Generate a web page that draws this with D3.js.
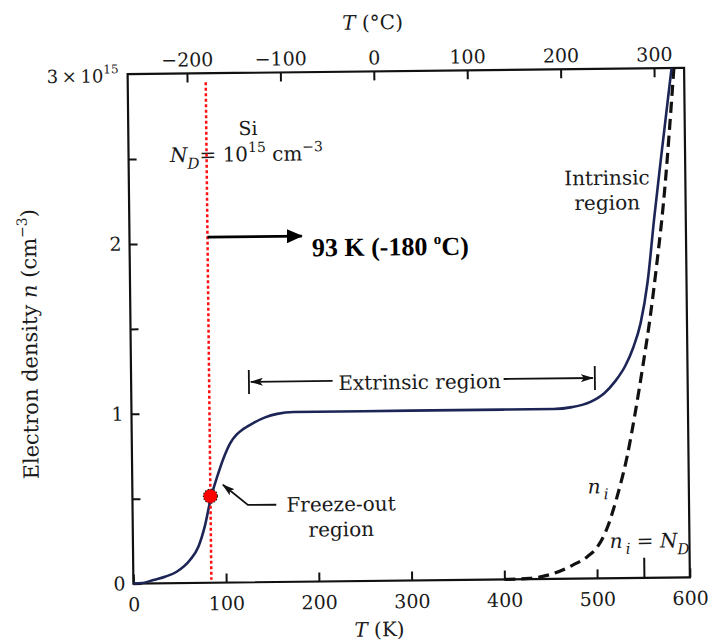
<!DOCTYPE html>
<html>
<head>
<meta charset="utf-8">
<script src="https://cdn.jsdelivr.net/npm/d3@7"></script>
<style>
  body { margin: 0; background: #fff; }
  svg { display: block; font-family: "DejaVu Serif", serif; }
</style>
</head>
<body>
<script>
'use strict';

// electron density n (units of 1e15 cm^-3) against T (K)
const solidT = [0, 10, 21.5, 35, 46.8, 61.3, 70.5, 78, 84.6, 92, 100, 106, 113, 121, 132, 144, 157, 175, 200, 300, 400, 455, 475, 495, 510, 522, 533, 542, 550, 558, 566, 574, 586.5];
const solidN = [0, 0.003, 0.02, 0.04, 0.067, 0.135, 0.213, 0.34, 0.5, 0.63, 0.75, 0.82, 0.87, 0.905, 0.94, 0.97, 0.99, 1.0, 1.0, 1.0, 1.0, 1.0, 1.01, 1.04, 1.09, 1.16, 1.25, 1.36, 1.5, 1.74, 2.12, 2.47, 3.0];

// intrinsic density n_i (dashed)
const niT = [400, 427, 452, 474, 490, 500, 511, 522, 534, 543, 552, 560, 568, 576, 589];
const niN = [0, 0.005, 0.03, 0.08, 0.13, 0.18, 0.29, 0.47, 0.72, 0.97, 1.25, 1.52, 1.84, 2.2, 3.0];

// ticks
const kTicks = [0, 100, 200, 300, 400, 500, 600];
const cTicks = [-200, -100, 0, 100, 200, 300];
const nTicks = [0, 0.5, 1, 1.5, 2, 2.5];
const nLabels = [0, 1, 2];

// annotation values
const markC = -180;        // red marker line, deg C
const markN = 0.51;        // red dot
const arrowTipK = 188;
const arrowN = 2.035;
const extrinsic = [127, 500];
const extrinsicN = 1.18;
const niEqualK = 551;

const svg = d3.select('body').append('svg')
  .attr('width', 718)
  .attr('height', 643);

// the scanned figure sits slightly rotated
const g = svg.append('g').attr('transform', 'rotate(-0.65, 408, 326)');

const x = d3.scaleLinear().domain([0, 600]).range([130.5, 687]);
const xC = d3.scaleLinear().domain([-263.5, 332.2]).range([130.5, 687]);
const y = d3.scaleLinear().domain([0, 3]).range([580.5, 71]);

const defs = svg.append('defs');
defs.append('marker')
  .attr('id', 'bigHead')
  .attr('viewBox', '0 0 16 14')
  .attr('refX', 15).attr('refY', 7)
  .attr('markerUnits', 'userSpaceOnUse')
  .attr('markerWidth', 16).attr('markerHeight', 14)
  .attr('orient', 'auto')
  .append('path').attr('d', 'M0,0 L16,7 L0,14 Z').attr('fill', '#000');
defs.append('marker')
  .attr('id', 'smallHead')
  .attr('viewBox', '0 0 13 8')
  .attr('refX', 12).attr('refY', 4)
  .attr('markerUnits', 'userSpaceOnUse')
  .attr('markerWidth', 13).attr('markerHeight', 8)
  .attr('orient', 'auto-start-reverse')
  .append('path').attr('d', 'M0,0 L13,4 L0,8 L3,4 Z').attr('fill', '#111');

function styleAxis(sel) {
  sel.select('.domain').remove();
  sel.attr('font-family', '"DejaVu Serif", serif').attr('font-size', 19);
  sel.selectAll('.tick line').attr('stroke', '#111').attr('stroke-width', 2);
  sel.selectAll('.tick text').attr('fill', '#1a1a1a');
}

// axes, ticks pointing inward
g.append('g')
  .attr('transform', 'translate(0,' + y(0) + ')')
  .call(d3.axisBottom(x).tickValues(kTicks).tickSize(-9).tickPadding(14))
  .call(styleAxis);

g.append('g')
  .attr('transform', 'translate(0,' + y(3) + ')')
  .call(d3.axisTop(xC).tickValues(cTicks).tickSize(-9).tickPadding(7))
  .call(styleAxis);

g.append('g')
  .attr('transform', 'translate(' + x(0) + ',0)')
  .call(d3.axisLeft(y).tickValues(nTicks).tickSize(-8).tickPadding(8)
    .tickFormat(d => nLabels.includes(d) ? d : ''))
  .call(styleAxis);

// frame
g.append('rect')
  .attr('x', x(0)).attr('y', y(3))
  .attr('width', x(600) - x(0)).attr('height', y(0) - y(3))
  .attr('fill', 'none').attr('stroke', '#111').attr('stroke-width', 2.2);

// top-left label 3 x 10^15
const topLab = g.append('text')
  .attr('x', x(0) - 9).attr('y', y(3) + 8)
  .attr('text-anchor', 'end').attr('font-size', 18).attr('fill', '#1a1a1a');
topLab.append('tspan').text('3\u2009\u00d7\u200910');
topLab.append('tspan').attr('font-size', 12).attr('dy', -9).text('15');

// axis titles
const tC = g.append('text')
  .attr('x', 376).attr('y', 29)
  .attr('text-anchor', 'middle').attr('font-size', 20).attr('fill', '#1a1a1a');
tC.append('tspan').attr('font-style', 'italic').text('T');
tC.append('tspan').text(' (\u00b0C)');

const tK = g.append('text')
  .attr('x', 376).attr('y', 636)
  .attr('text-anchor', 'middle').attr('font-size', 20).attr('fill', '#1a1a1a');
tK.append('tspan').attr('font-style', 'italic').text('T');
tK.append('tspan').text(' (K)');

const yTitle = g.append('text')
  .attr('transform', 'translate(37,340) rotate(-90)')
  .attr('text-anchor', 'middle').attr('font-size', 21).attr('fill', '#1a1a1a');
yTitle.append('tspan').text('Electron density ');
yTitle.append('tspan').attr('font-style', 'italic').text('n');
yTitle.append('tspan').text(' (cm');
yTitle.append('tspan').attr('font-size', 14).attr('dy', -9).text('\u22123');
yTitle.append('tspan').attr('dy', 9).text(')');

// curves
const solidData = solidT.map((t, i) => [t, solidN[i]]);
const niData = niT.map((t, i) => [t, niN[i]]);
const line = d3.line()
  .x(d => x(d[0]))
  .y(d => y(d[1]))
  .curve(d3.curveMonotoneX);

g.append('path')
  .datum(niData)
  .attr('d', line)
  .attr('fill', 'none')
  .attr('stroke', '#111')
  .attr('stroke-width', 3.2)
  .attr('stroke-dasharray', '11,6');

g.append('path')
  .datum(solidData)
  .attr('d', line)
  .attr('fill', 'none')
  .attr('stroke', '#1d2556')
  .attr('stroke-width', 2.6);

// n_i = N_D marker tick
g.append('line')
  .attr('x1', x(niEqualK)).attr('x2', x(niEqualK))
  .attr('y1', y(0)).attr('y2', y(0) - 20)
  .attr('stroke', '#111').attr('stroke-width', 2);

// extrinsic region span
extrinsic.forEach(t => {
  g.append('line')
    .attr('x1', x(t)).attr('x2', x(t))
    .attr('y1', y(extrinsicN) - 12).attr('y2', y(extrinsicN) + 12)
    .attr('stroke', '#111').attr('stroke-width', 1.8);
});
g.append('line')
  .attr('x1', 332).attr('x2', x(extrinsic[0]) + 2)
  .attr('y1', y(extrinsicN)).attr('y2', y(extrinsicN))
  .attr('stroke', '#111').attr('stroke-width', 1.8)
  .attr('marker-end', 'url(#smallHead)');
g.append('line')
  .attr('x1', 503).attr('x2', x(extrinsic[1]) - 2)
  .attr('y1', y(extrinsicN)).attr('y2', y(extrinsicN))
  .attr('stroke', '#111').attr('stroke-width', 1.8)
  .attr('marker-end', 'url(#smallHead)');
g.append('text')
  .attr('x', x(311)).attr('y', y(extrinsicN) + 9)
  .attr('text-anchor', 'middle').attr('font-size', 20).attr('fill', '#1a1a1a')
  .text('Extrinsic region');

// intrinsic region label
g.append('text').attr('x', x(515.5)).attr('y', y(2.316))
  .attr('text-anchor', 'middle').attr('font-size', 20).attr('fill', '#1a1a1a')
  .text('Intrinsic');
g.append('text').attr('x', x(515.5)).attr('y', y(2.17))
  .attr('text-anchor', 'middle').attr('font-size', 20).attr('fill', '#1a1a1a')
  .text('region');

// freeze-out label and arrow
g.append('text').attr('x', x(224.8)).attr('y', y(0.413))
  .attr('text-anchor', 'middle').attr('font-size', 20).attr('fill', '#1a1a1a')
  .text('Freeze-out');
g.append('text').attr('x', x(224.8)).attr('y', y(0.265))
  .attr('text-anchor', 'middle').attr('font-size', 20).attr('fill', '#1a1a1a')
  .text('region');
g.append('path')
  .attr('d', d3.line()([[x(155), y(0.455)], [x(124.4), y(0.456)], [x(97.7), y(0.576)]]))
  .attr('fill', 'none').attr('stroke', '#111').attr('stroke-width', 1.8)
  .attr('marker-end', 'url(#smallHead)');

// Si, N_D label
g.append('text').attr('x', x(129)).attr('y', y(2.634))
  .attr('text-anchor', 'middle').attr('font-size', 19).attr('fill', '#1a1a1a')
  .text('Si');
const nd = g.append('text').attr('x', x(44.6)).attr('y', y(2.48))
  .attr('font-size', 20).attr('fill', '#1a1a1a');
nd.append('tspan').attr('font-style', 'italic').text('N');
nd.append('tspan').attr('font-style', 'italic').attr('font-size', 15).attr('dy', 7).text('D');
nd.append('tspan').attr('dy', -7).text('= 10');
nd.append('tspan').attr('font-size', 14).attr('dy', -9).text('15');
nd.append('tspan').attr('dy', 9).text(' cm');
nd.append('tspan').attr('font-size', 14).attr('dy', -9).text('\u22123');

// n_i labels
const ni = g.append('text').attr('x', x(491)).attr('y', y(0.5))
  .attr('font-size', 20).attr('font-style', 'italic').attr('fill', '#1a1a1a');
ni.append('tspan').text('n');
ni.append('tspan').attr('font-size', 15).attr('dy', 6).attr('dx', 3).text('i');
const nieq = g.append('text').attr('x', x(514)).attr('y', y(0.178))
  .attr('font-size', 20).attr('fill', '#1a1a1a');
nieq.append('tspan').attr('font-style', 'italic').text('n');
nieq.append('tspan').attr('font-style', 'italic').attr('font-size', 15).attr('dy', 6).attr('dx', 3).text('i');
nieq.append('tspan').attr('dy', -6).text(' = ');
nieq.append('tspan').attr('font-style', 'italic').text('N');
nieq.append('tspan').attr('font-style', 'italic').attr('font-size', 15).attr('dy', 7).text('D');

// red marker: dotted line, dot, arrow and label
g.append('line')
  .attr('x1', xC(markC)).attr('x2', xC(markC))
  .attr('y1', y(3) + 9).attr('y2', y(0) - 3)
  .attr('stroke', '#ff1010').attr('stroke-width', 2.5)
  .attr('stroke-dasharray', '3,2.5');

g.append('circle')
  .attr('cx', xC(markC)).attr('cy', y(markN)).attr('r', 7)
  .attr('fill', '#ff0000')
  .attr('stroke', '#222').attr('stroke-width', 1.2)
  .attr('stroke-dasharray', '1.5,1.5');

g.append('line')
  .attr('x1', xC(markC)).attr('x2', x(arrowTipK) - 2)
  .attr('y1', y(arrowN)).attr('y2', y(arrowN))
  .attr('stroke', '#000').attr('stroke-width', 2.6)
  .attr('marker-end', 'url(#bigHead)');

const lab = g.append('text')
  .attr('x', x(196.5)).attr('y', y(1.915))
  .attr('font-family', '"Liberation Serif", serif')
  .attr('font-weight', 'bold').attr('font-size', 26).attr('fill', '#000');
lab.append('tspan').text('93 K (-180 ');
lab.append('tspan').attr('font-size', 15).attr('dy', -11).text('o');
lab.append('tspan').attr('dy', 11).text('C)');
</script>
</body>
</html>
